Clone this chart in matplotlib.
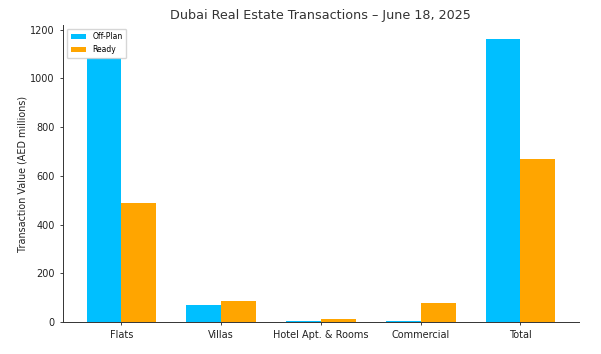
import matplotlib.pyplot as plt
import numpy as np

# transaction values (AED millions)
categories = ['Flats', 'Villas', 'Hotel Apt. & Rooms', 'Commercial', 'Total']
off_plan = [1085, 70, 3, 3, 1163]
ready = [489, 86, 12, 78, 670]

fig, ax = plt.subplots(figsize=(6.01, 3.54), dpi=100)

x = np.arange(len(categories))
width = 0.35
ax.bar(x - width / 2, off_plan, width, label='Off-Plan', color='deepskyblue')
ax.bar(x + width / 2, ready, width, label='Ready', color='orange')

ax.set_xticks(x)
ax.set_xticklabels(categories)
ax.tick_params(labelsize=7, length=2.5, width=0.6, colors='#222222')
ax.set_ylabel('Transaction Value (AED millions)', fontsize=6.9, color='#222222', labelpad=2)
ax.set_title('Dubai Real Estate Transactions – June 18, 2025', fontsize=9.2,
             color='#333333', pad=4)
ax.legend(loc='upper left', fontsize=5.5, handlelength=2, borderpad=0.5)
ax.spines['top'].set_visible(False)
ax.spines['right'].set_visible(False)
for s in ['left', 'bottom']:
    ax.spines[s].set_linewidth(0.7)
    ax.spines[s].set_color('#333333')
ax.set_ylim(0, 1220)

fig.subplots_adjust(left=0.105, right=0.963, top=0.93, bottom=0.09)
fig.savefig('out.png', dpi=100)
